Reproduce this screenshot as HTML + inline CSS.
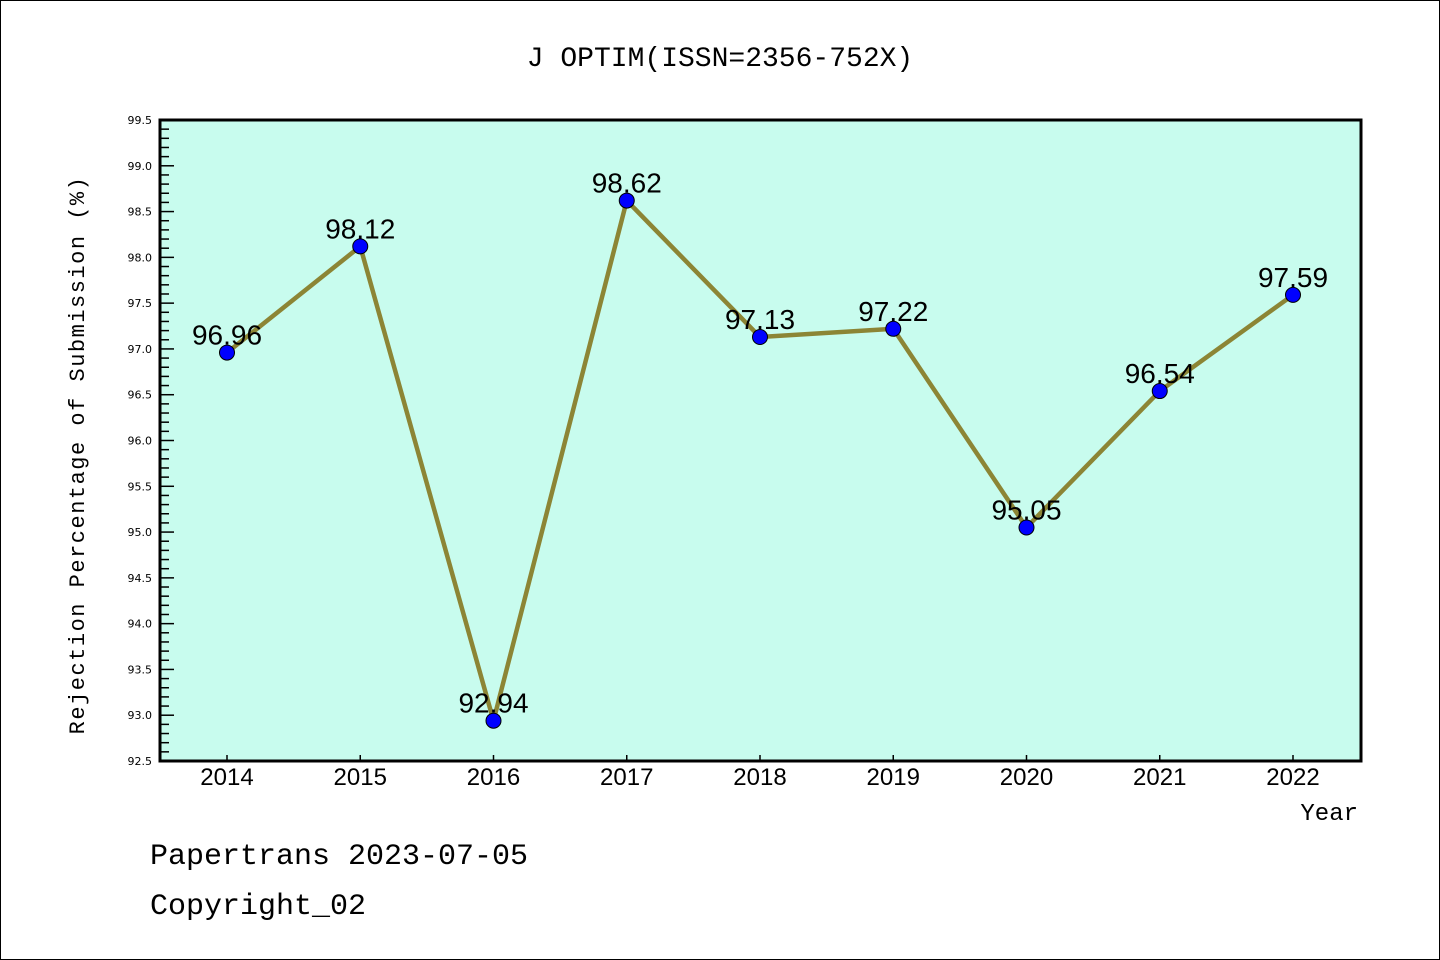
<!DOCTYPE html>
<html><head><meta charset="utf-8"><style>
html,body{margin:0;padding:0;background:#fff;}
svg{display:block;font-family:"Liberation Mono","DejaVu Sans Mono",monospace;}
</style></head><body>
<svg id="chart" width="1440" height="960" viewBox="0 0 1440 960">
<rect x="0.5" y="0.5" width="1439" height="959" fill="#fff" stroke="#000" stroke-width="1"/>
<text x="720" y="66" text-anchor="middle" font-size="28">J OPTIM(ISSN=2356-752X)</text>
<rect x="160" y="120" width="1201" height="641" fill="#c8fcee"/>
<g id="yaxis"></g>
<g id="xaxis"></g>
<g id="series"></g>
<rect x="160" y="120" width="1201" height="641" fill="none" stroke="#000" stroke-width="3"/>
<text transform="translate(84,455) rotate(-90)" text-anchor="middle" font-size="22" letter-spacing="1.5">Rejection Percentage of Submission (%)</text>
<text x="1358" y="820" text-anchor="end" font-size="24">Year</text>
<text x="150" y="864" font-size="30">Papertrans 2023-07-05</text>
<text x="150" y="914" font-size="30">Copyright_02</text>
</svg>
<script>
const years = ["2014","2015","2016","2017","2018","2019","2020","2021","2022"];
const values = [96.96,98.12,92.94,98.62,97.13,97.22,95.05,96.54,97.59];
const valueLabels = ["96.96","98.12","92.94","98.62","97.13","97.22","95.05","96.54","97.59"];
const yTicks = ["92.5","93.0","93.5","94.0","94.5","95.0","95.5","96.0","96.5","97.0","97.5","98.0","98.5","99.0","99.5"];
const yMin = 92.5, yMax = 99.5;
const NS = "http://www.w3.org/2000/svg";
function yS(v){return 761 - (v - yMin) / (yMax - yMin) * 641;}
function xS(i){return 227 + i * 133.25;}
function mk(tag, attrs, parent){const e=document.createElementNS(NS,tag);for(const k in attrs)e.setAttribute(k,attrs[k]);parent.appendChild(e);return e;}
const ya=document.getElementById('yaxis'), xa=document.getElementById('xaxis'), sg=document.getElementById('series');
for(let k=0;k<=70;k++){
  const v=yMin+k*0.1, major=k%5===0;
  const t=mk('line',{x1:160,x2:160+(major?14:9),y1:yS(v),y2:yS(v),stroke:'#000','stroke-width':1.5},ya);
  
  
}
yTicks.forEach(s=>{
  const t=mk('text',{x:152,y:yS(parseFloat(s))+4,'text-anchor':'end','font-size':11,'font-family':'DejaVu Sans, sans-serif'},ya);
  t.textContent=s;
  
  
});
years.forEach((y,i)=>{
  const t=mk('line',{x1:xS(i),x2:xS(i),y1:761,y2:755,stroke:'#000','stroke-width':1.5},xa);
  
  
  const l=mk('text',{x:xS(i),y:785,'text-anchor':'middle','font-size':24,'font-family':'Liberation Sans, sans-serif'},xa);
  l.textContent=y;
  
  
});
const pts=values.map((v,i)=>xS(i)+','+yS(v)).join(' ');
const line=mk('polyline',{points:pts,fill:'none',stroke:'#8c8535','stroke-width':4.5,'stroke-linejoin':'round'},sg);


values.forEach((v,i)=>{
  const lb=mk('text',{x:xS(i),y:yS(v)-8,'text-anchor':'middle','font-size':28,'font-family':'Liberation Sans, sans-serif'},sg);
  lb.textContent=valueLabels[i];
  
  
});
values.forEach((v,i)=>{
  const c=mk('circle',{cx:xS(i),cy:yS(v),r:7.5,fill:'#0000ff',stroke:'#000','stroke-width':1},sg);
  
  
});
</script>
</body></html>
